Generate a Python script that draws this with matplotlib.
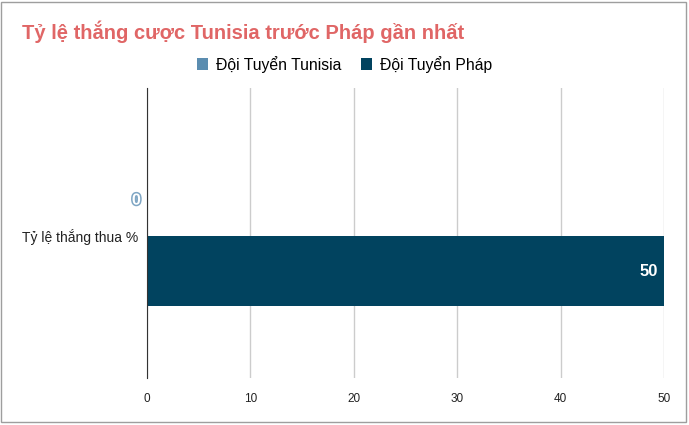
import matplotlib
matplotlib.use("Agg")
import matplotlib.pyplot as plt
import matplotlib.patheffects as pe
from matplotlib.patches import Rectangle

plt.rcParams['font.family'] = ['Liberation Sans', 'DejaVu Sans']

# Data
category = 'Tỷ lệ thắng thua %'
series_names = ['Đội Tuyển Tunisia', 'Đội Tuyển Pháp']
series_values = [0, 50]
series_colors = ['#5b8db0', '#01435f']
x_ticks = [0, 10, 20, 30, 40, 50]
title = 'Tỷ lệ thắng cược Tunisia trước Pháp gần nhất'

fig = plt.figure(figsize=(6.89, 4.25), dpi=100)
fig.patches.append(Rectangle((0.002, 0.006), 0.994, 0.99, transform=fig.transFigure,
                             fill=False, edgecolor='#9e9e9e', linewidth=1))

ax = fig.add_axes([0.2134, 0.1106, 0.7504, 0.6824])

bar_h = 0.241
offsets = [0.123, -0.123]
for name, val, col, off in zip(series_names, series_values, series_colors, offsets):
    ax.barh(off, val, height=bar_h, color=col, label=name, zorder=3)

# value labels
ax.text(series_values[0] - 0.6, offsets[0], str(series_values[0]), ha='right', va='center',
        fontsize=11.5, fontweight='bold', color='white', zorder=5,
        path_effects=[pe.withStroke(linewidth=2.2, foreground='#7fa6c4')])
ax.text(series_values[1] - 0.6, offsets[1], str(series_values[1]), ha='right', va='center',
        fontsize=12, fontweight='bold', color='white', zorder=5)

ax.set_xlim(0, 50)
ax.set_ylim(-0.4905, 0.5095)
ax.set_xticks(x_ticks)
ax.set_xticklabels([str(t) for t in x_ticks], fontsize=8.5, color='#222222')
ax.set_yticks([0])
ax.set_yticklabels([category], fontsize=10, color='#222222')
ax.tick_params(axis='both', length=0, pad=11)
ax.tick_params(axis='y', pad=6)
ax.grid(True, axis='x', color='#cccccc', linewidth=1, zorder=0)
for s in ['top', 'right', 'bottom']:
    ax.spines[s].set_visible(False)
ax.spines['left'].set_color('#333333')
ax.spines['left'].set_zorder(4)

fig.text(0.032, 0.925, title, fontsize=14.5, fontweight='bold', color='#e06666',
         ha='left', va='center')
fig.legend(loc='center', bbox_to_anchor=(0.5, 0.849), ncol=2, frameon=False,
           fontsize=11.3, handlelength=0.75, handleheight=0.75, handletextpad=0.5,
           columnspacing=1.2)

fig.savefig('out.png', dpi=100)
